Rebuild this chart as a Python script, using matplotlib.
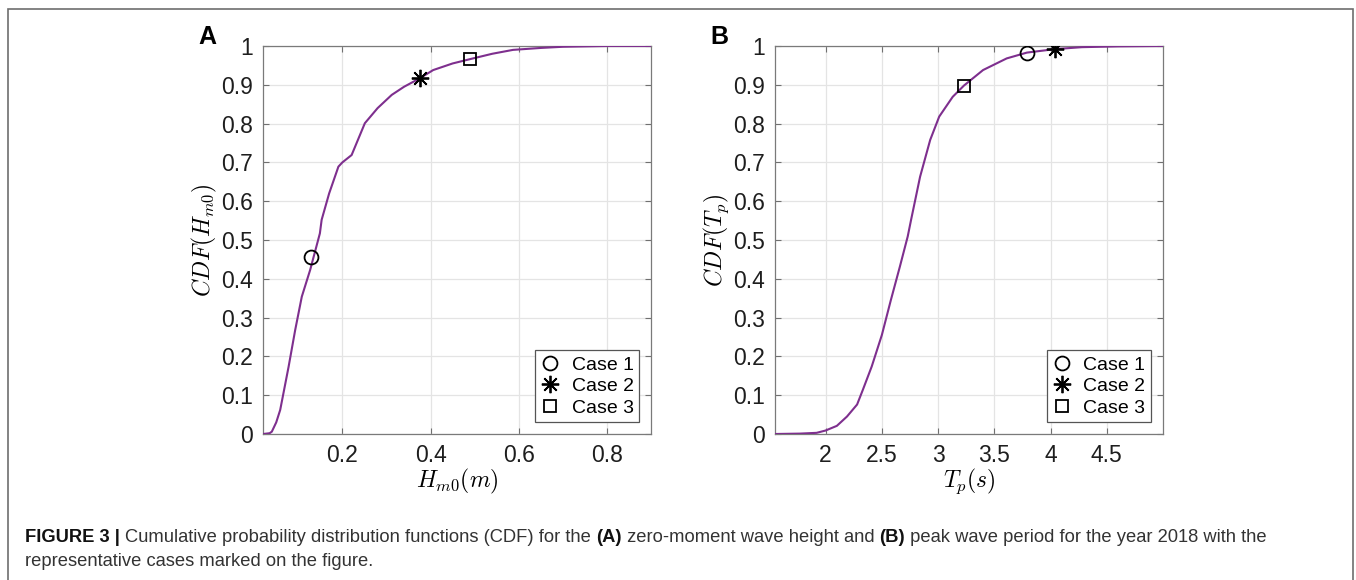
import matplotlib
matplotlib.use('Agg')
import matplotlib.pyplot as plt
from matplotlib.patches import Rectangle
from matplotlib.ticker import FormatStrFormatter

plt.rcParams['font.family'] = ['Liberation Sans', 'DejaVu Sans']
plt.rcParams['mathtext.fontset'] = 'cm'

# Panel A: zero-moment wave height CDF
hm0 = [0.02, 0.035, 0.04, 0.05, 0.059, 0.078, 0.093, 0.108, 0.127, 0.149,
       0.153, 0.17, 0.191, 0.2, 0.221, 0.251, 0.28, 0.312, 0.34, 0.376,
       0.406, 0.45, 0.489, 0.54, 0.587, 0.65, 0.70, 0.8, 0.9]
cdf_hm0 = [0.0, 0.002, 0.006, 0.03, 0.062, 0.173, 0.268, 0.354, 0.423, 0.517,
           0.552, 0.62, 0.689, 0.70, 0.719, 0.801, 0.84, 0.874, 0.895, 0.917,
           0.938, 0.955, 0.966, 0.98, 0.990, 0.995, 0.998, 1.0, 1.0]
cases_hm0 = [0.129, 0.377, 0.49]
cases_cdf_hm0 = [0.456, 0.917, 0.966]

# Panel B: peak wave period CDF
tp = [1.55, 1.77, 1.92, 2.0, 2.10, 2.19, 2.28, 2.33, 2.41, 2.50, 2.58, 2.66,
      2.73, 2.76, 2.84, 2.93, 3.01, 3.13, 3.23, 3.40, 3.61, 3.79, 4.04, 4.28,
      4.6, 5.0]
cdf_tp = [0.0, 0.001, 0.003, 0.009, 0.021, 0.045, 0.076, 0.113, 0.174, 0.255,
          0.345, 0.431, 0.509, 0.552, 0.663, 0.758, 0.818, 0.869, 0.898, 0.938,
          0.968, 0.983, 0.992, 0.997, 0.999, 1.0]
cases_tp = [3.79, 4.04, 3.23]
cases_cdf_tp = [0.983, 0.991, 0.898]

case_labels = ['Case 1', 'Case 2', 'Case 3']
case_markers = ['o', (8, 2, 0), 's']
marker_sizes = [10, 12.5, 9]
y_ticks = [0, 0.1, 0.2, 0.3, 0.4, 0.5, 0.6, 0.7, 0.8, 0.9, 1.0]

purple = '#7E2F8E'
W, H = 1356, 580

fig = plt.figure(figsize=(W / 100, H / 100), dpi=100)

# outer frame of the figure box
fig.add_artist(Rectangle((8 / W, -0.05), (1353 - 8) / W, 1 - 9 / H + 0.05,
                         transform=fig.transFigure, fill=False,
                         edgecolor='#6e6e6e', linewidth=1.2))


def draw_panel(rect, x, y, cx, cy, xlim, xticks, xlabel, ylabel, tag):
    ax = fig.add_axes(rect)
    ax.plot(x, y, color=purple, linewidth=1.5, zorder=3)
    for i in range(3):
        ax.plot(cx[i], cy[i], linestyle='none', marker=case_markers[i],
                markersize=marker_sizes[i], markerfacecolor='none',
                markeredgecolor='black', markeredgewidth=1.3,
                label=case_labels[i], zorder=4)
    ax.set_xlim(xlim)
    ax.set_ylim(0, 1)
    ax.set_xticks(xticks)
    ax.set_yticks(y_ticks)
    ax.xaxis.set_major_formatter(FormatStrFormatter('%g'))
    ax.yaxis.set_major_formatter(FormatStrFormatter('%g'))
    ax.grid(True, color='#e4e4e4', linewidth=0.9)
    ax.set_axisbelow(True)
    ax.tick_params(direction='in', length=4, width=0.8, top=True, right=True,
                   labelsize=16.5, labelcolor='#1e1e1e', color='#707070', pad=7)
    for s in ax.spines.values():
        s.set_color('#7a7a7a')
        s.set_linewidth(0.9)
    ax.set_xlabel(xlabel, fontsize=17, labelpad=0)
    ax.set_ylabel(ylabel, fontsize=17, labelpad=2)
    leg = ax.legend(loc='lower right', fontsize=14, frameon=True, fancybox=False,
                    edgecolor='#555555', framealpha=1, handlelength=1.0,
                    handletextpad=0.6, labelspacing=0.2, borderpad=0.3,
                    borderaxespad=0.6)
    leg.get_frame().set_linewidth(0.9)
    fig.text(rect[0] - 0.041, 0.936, tag, fontsize=18, fontweight='bold',
             ha='center', va='center')
    return ax


draw_panel([263 / W, 1 - 434 / H, 388 / W, 388 / H], hm0, cdf_hm0,
           cases_hm0, cases_cdf_hm0, (0.02, 0.9), [0.2, 0.4, 0.6, 0.8],
           r'$H_{m0}(m)$', r'$CDF(H_{m0})$', 'A')
draw_panel([775 / W, 1 - 434 / H, 388 / W, 388 / H], tp, cdf_tp,
           cases_tp, cases_cdf_tp, (1.55, 5.0), [2, 2.5, 3, 3.5, 4, 4.5],
           r'$T_p(s)$', r'$CDF(T_p)$', 'B')

# caption with bold pieces, laid out piece by piece
line1 = [('FIGURE 3 | ', 'bold', '#111111'),
         ('Cumulative probability distribution functions (CDF) for the ', 'normal', '#333333'),
         ('(A)', 'bold', '#111111'),
         (' zero-moment wave height and ', 'normal', '#333333'),
         ('(B)', 'bold', '#111111'),
         (' peak wave period for the year 2018 with the', 'normal', '#333333')]
fig.canvas.draw()
renderer = fig.canvas.get_renderer()
xpos = 25 / W
for txt, wt, col in line1:
    t = fig.text(xpos, 1 - 537 / H, txt, fontsize=13.2, fontweight=wt,
                 color=col, va='center', ha='left')
    bb = t.get_window_extent(renderer=renderer)
    xpos = bb.x1 / W
fig.text(25 / W, 1 - 562 / H, 'representative cases marked on the figure.',
         fontsize=13.2, color='#333333', va='center', ha='left')

fig.savefig('out.png', dpi=100)
